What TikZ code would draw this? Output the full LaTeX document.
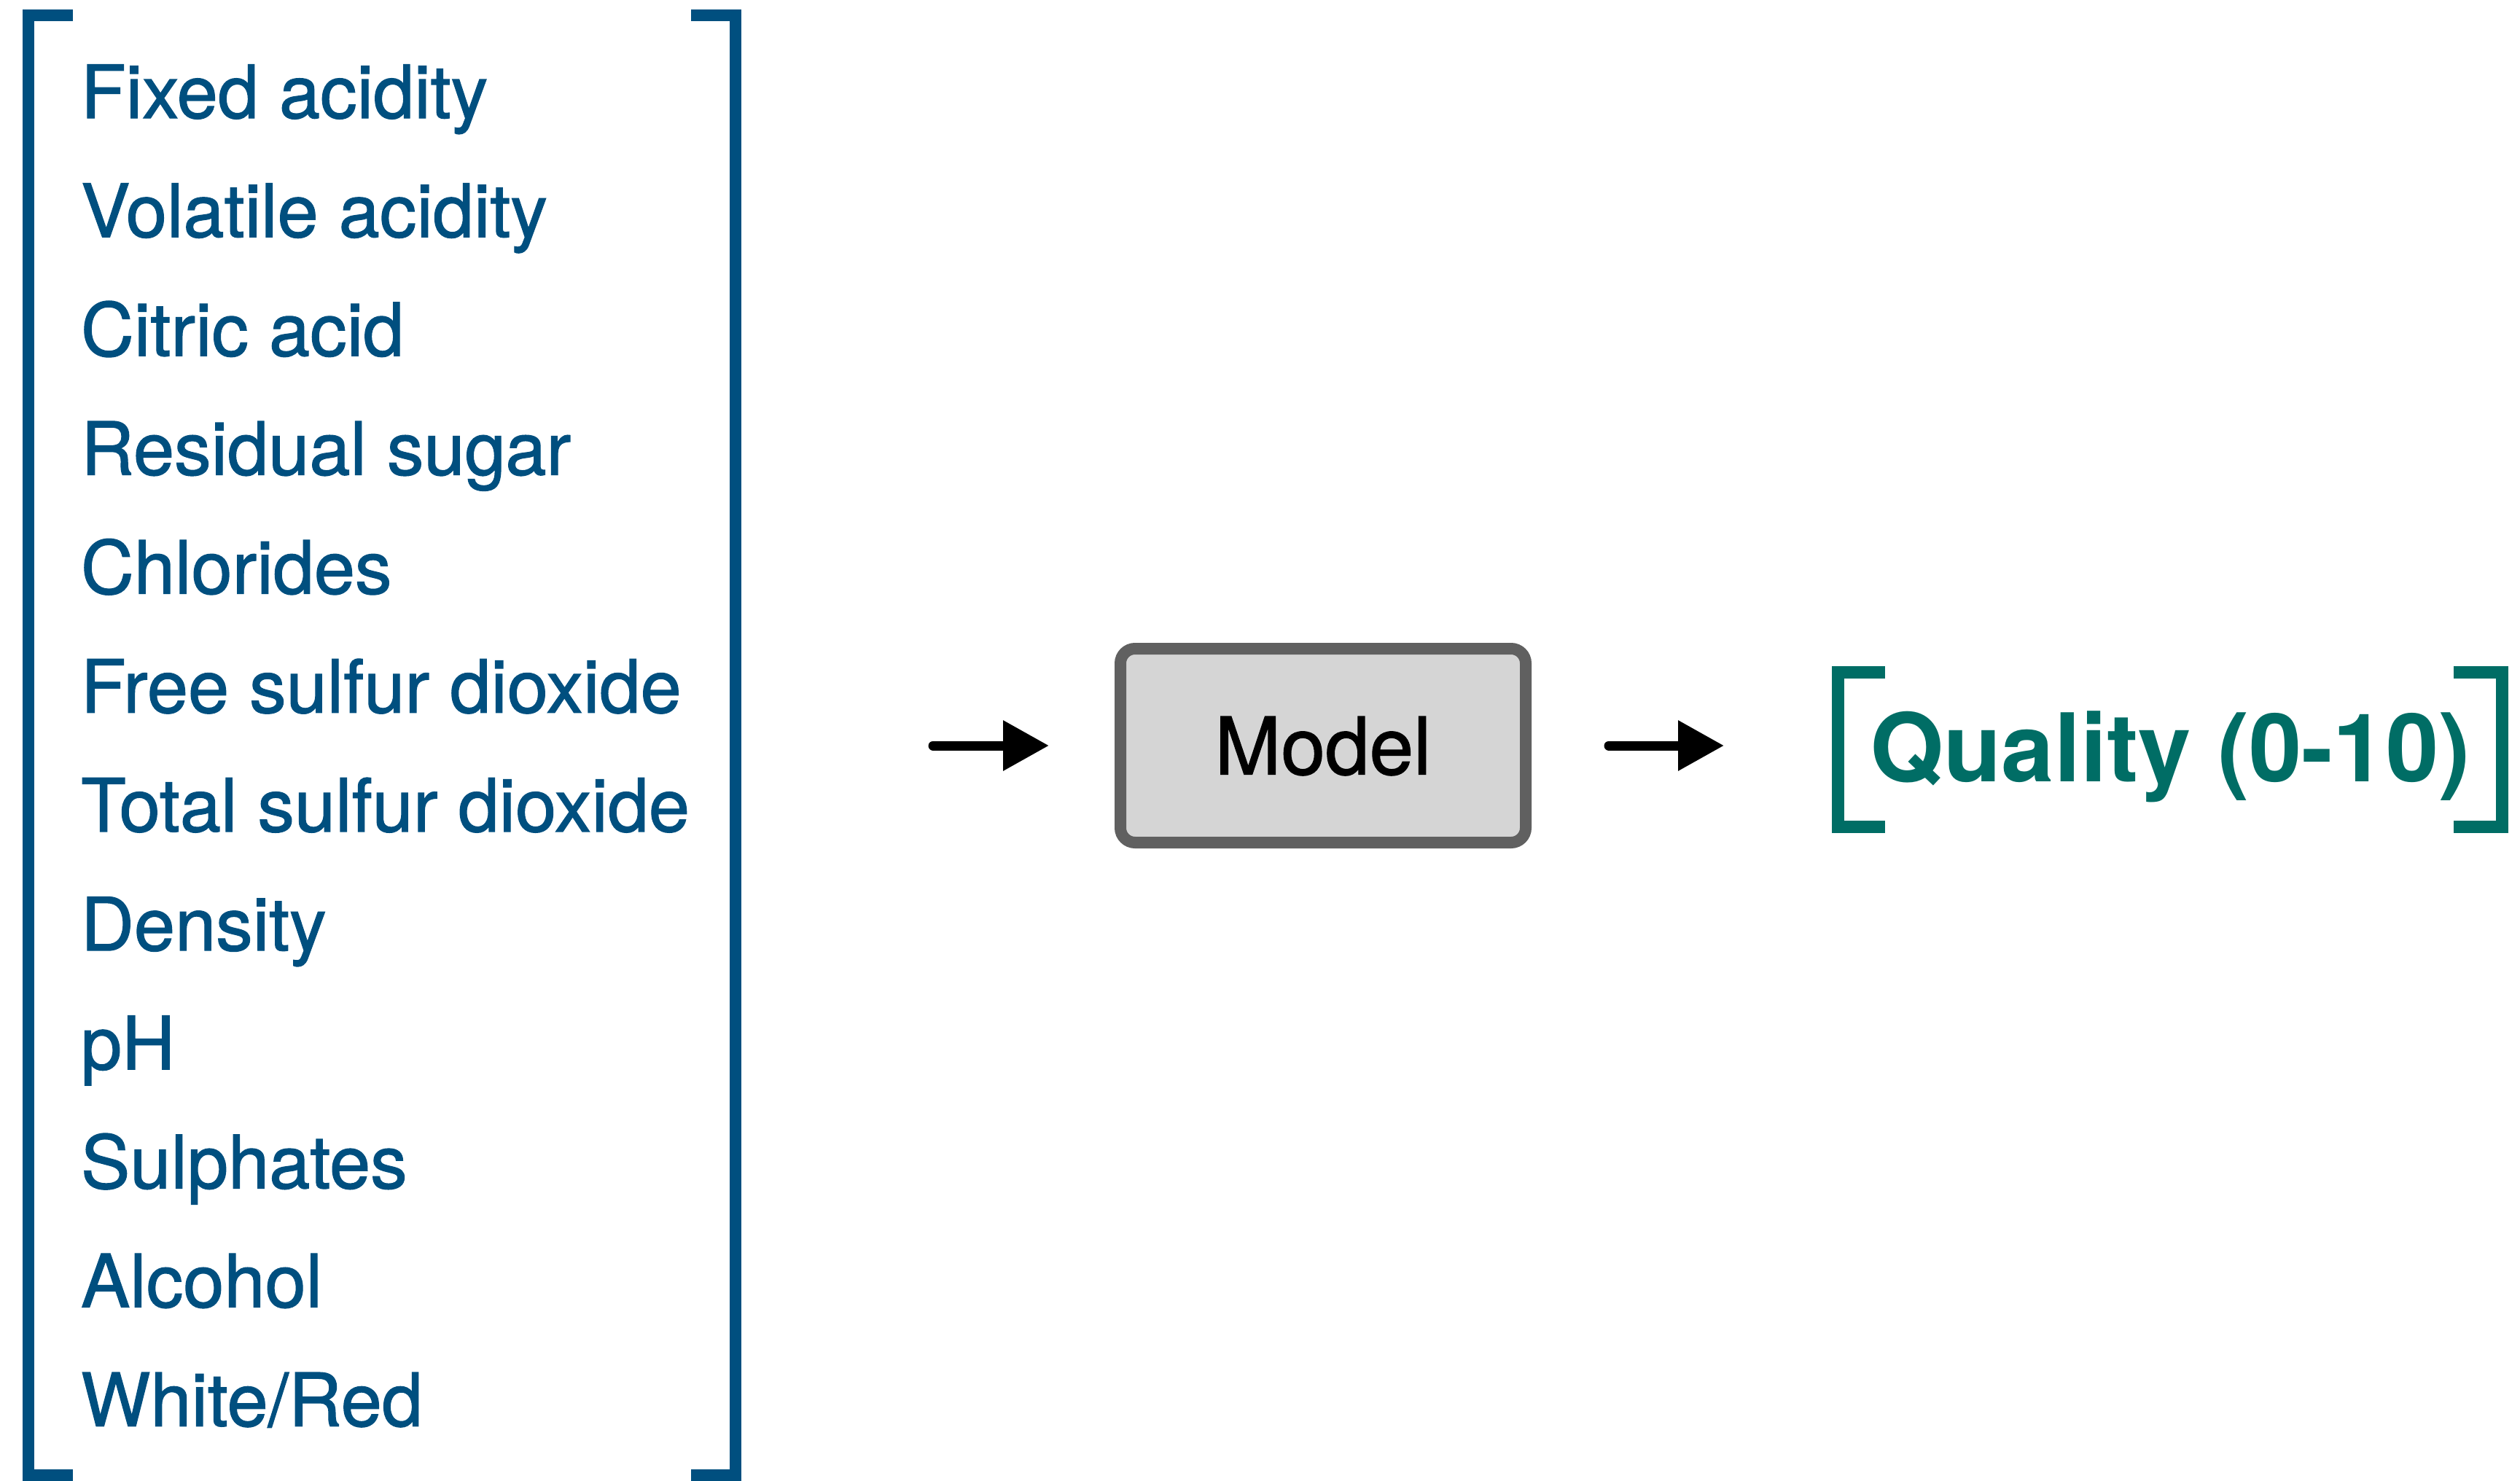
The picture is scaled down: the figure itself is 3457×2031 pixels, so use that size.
\documentclass[tikz,border=0pt]{standalone}
\usepackage{fontspec}
\setmainfont{TeX Gyre Heros}
\newfontfamily\featfont[FakeBold=1.2]{TeX Gyre Heros}
\usetikzlibrary{arrows.meta}
\definecolor{featblue}{HTML}{004F7F}
\definecolor{qualteal}{HTML}{006D65}
\definecolor{boxgray}{HTML}{606060}
\definecolor{boxfill}{HTML}{D5D5D5}
\tikzset{
  feat/.style={anchor=base west, inner sep=0pt, outer sep=0pt, text=featblue,
    font=\featfont\fontsize{101}{110}\selectfont},
  bracketline/.style={line width=16pt, line cap=butt, line join=miter},
  modelbox/.style={draw=boxgray, fill=boxfill, line width=16pt, rounded corners=20pt,
    minimum width=556pt, minimum height=266pt, inner sep=0pt,
    text height=79pt, text depth=0pt, font=\featfont\fontsize{109}{120}\selectfont},
  arr/.style={line width=13pt, line cap=round,
    -{Triangle[length=63pt, width=66pt]}},
}
\begin{document}
\begin{tikzpicture}[x=1pt,y=-1pt]
\useasboundingbox (0,0) rectangle (3457,2031);
% input brackets
\draw[bracketline, featblue] (100,21) -- (39,21) -- (39,2023.5) -- (100,2023.5);
\draw[bracketline, featblue] (948,21) -- (1009,21) -- (1009,2023.5) -- (948,2023.5);
% features
\node[feat] (f1)  at (111,162.0)  {Fixed acidity};
\node[feat] (f2)  at (111,325.2)  {Volatile acidity};
\node[feat] (f3)  at (111,488.3)  {Citric acid};
\node[feat] (f4)  at (111,651.5)  {Residual sugar};
\node[feat] (f5)  at (111,814.6)  {Chlorides};
\node[feat] (f6)  at (111,977.8)  {Free sulfur dioxide};
\node[feat] (f7)  at (111,1140.9) {Total sulfur dioxide};
\node[feat] (f8)  at (111,1304.1) {Density};
\node[feat] (f9)  at (111,1467.2) {pH};
\node[feat] (f10) at (111,1630.4) {Sulphates};
\node[feat] (f11) at (111,1793.5) {Alcohol};
\node[feat] (f12) at (111,1956.7) {White/Red};
% model
\node[modelbox] (model) at (1815,1023) {Model};
% output brackets and text
\draw[line width=17pt, qualteal, line join=miter] (2586,922) -- (2521.5,922) -- (2521.5,1134) -- (2586,1134);
\draw[line width=17pt, qualteal, line join=miter] (3366,922) -- (3432,922) -- (3432,1134) -- (3366,1134);
\node[anchor=base, inner sep=0pt, text=qualteal, font=\fontsize{130}{140}\selectfont\bfseries] (quality) at (2977,1072.7) {Quality (0-10)};
% arrows
\coordinate (a1s) at (1280,1023);
\coordinate (a1e) at (1439,1023);
\coordinate (a2s) at (2207,1023);
\coordinate (a2e) at (2365,1023);
\draw[arr] (a1s) -- (a1e);
\draw[arr] (a2s) -- (a2e);
\end{tikzpicture}
\end{document}
